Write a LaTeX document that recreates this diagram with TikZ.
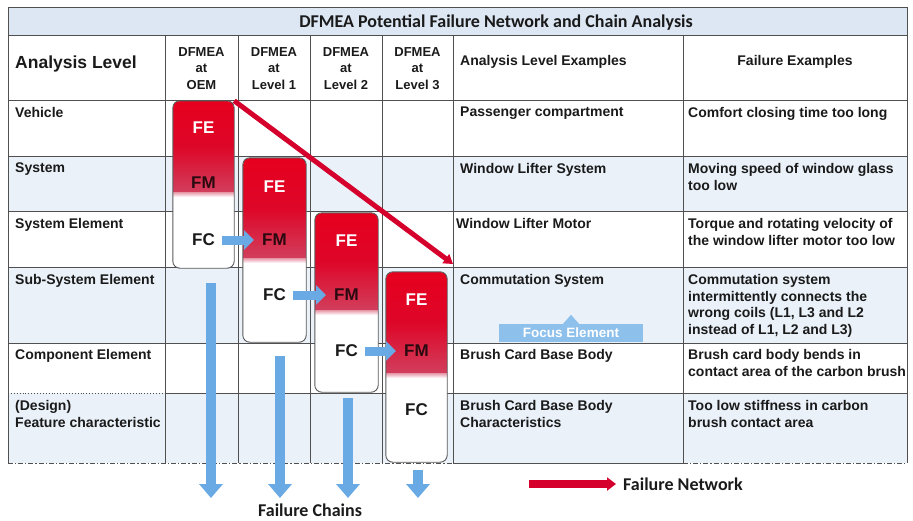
\documentclass[tikz,border=0pt]{standalone}
\usepackage{fontspec}
\setmainfont{Liberation Sans}
\newfontfamily\calibrifam{Carlito}
\usetikzlibrary{arrows.meta,calc,fit}

\definecolor{gridgray}{HTML}{505050}
\definecolor{pillgray}{HTML}{5A5A5A}
\definecolor{band}{HTML}{EAF1F9}
\definecolor{titlefill}{HTML}{DCE7F3}
\definecolor{fered}{HTML}{E6001E}
\definecolor{fedeep}{HTML}{DE0628}
\definecolor{fmred}{HTML}{D23E5C}
\definecolor{chainblue}{HTML}{69AAE4}
\definecolor{focusblue}{HTML}{8EC0EC}
\definecolor{netred}{HTML}{D5002C}
\definecolor{inkblack}{HTML}{1A1A1A}
\definecolor{fmink}{HTML}{2A0A10}

\begin{document}
\begin{tikzpicture}[x=1pt,y=-1pt,
  gridline/.style={draw=gridgray, line width=0.9pt},
  celltext/.style={anchor=north west, inner sep=0pt, align=left, text=inkblack,
    font=\fontsize{14}{16.7}\selectfont\bfseries},
  colhead/.style={anchor=north, inner sep=0pt, align=center, text=inkblack,
    font=\fontsize{13}{16.5}\selectfont\bfseries},
  pillbox/.style={fill=white, inner sep=0pt, rounded corners=7pt},
  tag/.style={inner sep=0pt, font=\fontsize{17}{20}\selectfont\bfseries},
  link/.style={draw=chainblue, line width=9pt, -{Triangle[length=10pt,width=19pt]}},
  chain/.style={draw=chainblue, line width=10pt, -{Triangle[length=14pt,width=23pt]}},
  netarrow/.style={draw=netred, line width=5pt, -{Triangle[length=9pt,width=11pt]}},
  netlegend/.style={draw=netred, line width=8pt, -{Triangle[length=9pt,width=13pt]}},
  calib/.style={inner sep=0pt, text=inkblack, font=\calibrifam\fontsize{#1}{#1}\selectfont\bfseries}
]
\useasboundingbox (0,0) rectangle (913,520);

% ---------- table background ----------
\fill[titlefill] (8,7) rectangle (907,35);
\fill[band] (8,156) rectangle (907,211);
\fill[band] (8,267) rectangle (907,343);
\fill[band] (8,393) rectangle (907,463);

% ---------- grid ----------
\draw[gridline] (8,7) -- (907,7);
\draw[gridline] (8,35) -- (907,35);
\foreach \yy in {100,156,211,267,343} \draw[gridline] (8,\yy) -- (907,\yy);
\draw[gridline, dotted] (8,393) -- (165,393);
\draw[gridline] (165,393) -- (907,393);
\draw[gridline, dash pattern=on 5pt off 2pt on 1.2pt off 2pt] (8,463) -- (453,463);
\draw[gridline] (453,463) -- (683,463);
\draw[gridline, dash pattern=on 5pt off 2pt on 1.2pt off 2pt] (683,463) -- (907,463);
\draw[gridline] (8,7) -- (8,463);
\draw[gridline] (907,7) -- (907,463);
\foreach \xx in {165,238,310,382,453,683} \draw[gridline] (\xx,35) -- (\xx,463);

% ---------- headings ----------
\node[calib=18, anchor=base] (title) at (496,27) {DFMEA Potential Failure Network and Chain Analysis};
\node[anchor=base west, inner sep=0pt, text=inkblack, font=\fontsize{17.5}{20}\selectfont\bfseries]
  (hlevel) at (15,68) {Analysis Level};
\node[colhead] (hoem) at (201.5,47) {DFMEA\\at\\OEM};
\node[colhead] (hl1) at (274,47) {DFMEA\\at\\Level 1};
\node[colhead] (hl2) at (346,47) {DFMEA\\at\\Level 2};
\node[colhead] (hl3) at (417.5,47) {DFMEA\\at\\Level 3};
\node[celltext, anchor=base west] (hex) at (460,65) {Analysis Level Examples};
\node[celltext, anchor=base] (hfail) at (795,65) {Failure Examples};

% ---------- analysis levels ----------
\node[celltext] (lv1) at (15,107) {Vehicle};
\node[celltext] (lv2) at (15,163) {System};
\node[celltext] (lv3) at (15,218) {System Element};
\node[celltext] (lv4) at (15,274) {Sub-System Element};
\node[celltext] (lv5) at (15,349) {Component Element};
\node[celltext] (lv6) at (15,400) {(Design)\\Feature characteristic};

\node[celltext] (ex1) at (460,107) {Passenger compartment};
\node[celltext] (ex2) at (460,163) {Window Lifter System};
\node[celltext] (ex3) at (456,218) {Window Lifter Motor};
\node[celltext] (ex4) at (460,274) {Commutation System};
\node[celltext] (ex5) at (460,349) {Brush Card Base Body};
\node[celltext] (ex6) at (460,400) {Brush Card Base Body\\Characteristics};

\node[celltext] (fx1) at (688,107) {Comfort closing time too long};
\node[celltext] (fx2) at (688,163) {Moving speed of window glass\\too low};
\node[celltext] (fx3) at (688,218) {Torque and rotating velocity of\\the window lifter motor too low};
\node[celltext] (fx4) at (688,274) {Commutation system\\intermittently connects the\\wrong coils (L1, L3 and L2\\instead of L1, L2 and L3)};
\node[celltext] (fx5) at (688,349) {Brush card body bends in\\contact area of the carbon brush};
\node[celltext] (fx6) at (688,400) {Too low stiffness in carbon\\brush contact area};

% ---------- focus element marker ----------
\node[fill=focusblue, minimum width=144pt, minimum height=18pt, inner sep=0pt,
  text=white, font=\fontsize{13.5}{15}\selectfont\bfseries] (focus) at (571,333) {Focus Element};
\fill[focusblue] ($(focus.north)+(-8,0)$) -- ($(focus.north)+(0,-9)$) -- ($(focus.north)+(8,0)$) -- cycle;

% ---------- DFMEA stacks (FE / FM / FC) ----------
\foreach \i/\xa/\xb/\ya/\yb/\yr/\yfe/\yfm/\yfc in {
    0/173/234/101/268/192/128/183/240,
    1/243/306/158/342/258/187/240/295,
    2/315/378/213/392/310/241/295/351,
    3/386/447/272/462/373/300/351/410}{
  \coordinate (pa\i) at (\xa,\ya);
  \coordinate (pb\i) at (\xb,\yb);
  \node[pillbox, fit=(pa\i)(pb\i)] (pill\i) {};
  \begin{scope}
    \clip[rounded corners=7pt] (\xa,\ya) rectangle (\xb,\yb);
    \shade[top color=fered, bottom color=fmred, middle color=fedeep] (\xa,\ya) rectangle (\xb,\yr);
    \shade[top color=fmred!55, bottom color=white] (\xa,\yr) rectangle (\xb,{\yr+5});
  \end{scope}
  \draw[pillgray, line width=0.9pt, rounded corners=7pt] (pill\i.north west) rectangle (pill\i.south east);
  \node[tag, text=white] (fe\i) at ({(\xa+\xb)/2},\yfe) {FE};
  \node[tag, text=fmink] (fm\i) at ({(\xa+\xb)/2},\yfm) {FM};
  \node[tag, text=inkblack] (fc\i) at ({(\xa+\xb)/2},\yfc) {FC};
}

% ---------- cause -> mode links between levels ----------
\draw[link, shorten <=7pt, shorten >=8pt] (fc0) -- (fm1);
\draw[link, shorten <=7pt, shorten >=8pt] (fc1) -- (fm2);
\draw[link, shorten <=7pt, shorten >=8pt] (fc2) -- (fm3);

% ---------- failure chains ----------
\coordinate (chainend0) at (211,498);
\coordinate (chainend1) at (280,498);
\coordinate (chainend2) at (348,498);
\coordinate (chainend3) at (418,498);
\draw[chain] ($(pill0.south)+(7.5,15)$) -- (chainend0);
\draw[chain] ($(pill1.south)+(5.5,14)$) -- (chainend1);
\draw[chain] ($(pill2.south)+(1.5,6)$) -- (chainend2);
\draw[chain] ($(pill3.south)+(1.5,8)$) -- (chainend3);

% ---------- failure network ----------
\coordinate (netend) at (453,264);
\draw[netarrow] (pill0.north east) -- (netend);

% ---------- legend ----------
\node[calib=18, anchor=base west] (netlabel) at (623,490) {Failure Network};
\coordinate (netstart) at (529,484);
\draw[netlegend] (netstart) -- (netstart -| 616,0);
\node[calib=18, anchor=base] (chainlabel) at (310,516) {Failure Chains};

\end{tikzpicture}
\end{document}
